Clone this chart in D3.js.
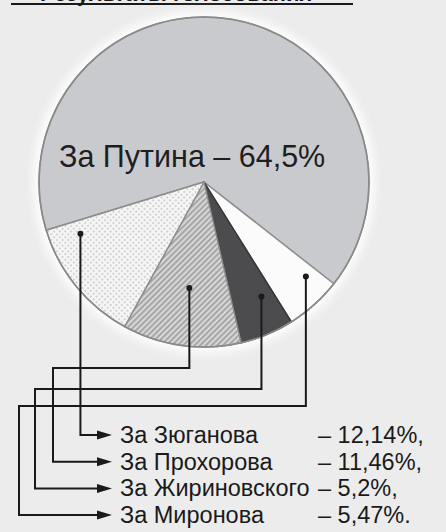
<!DOCTYPE html>
<html>
<head>
<meta charset="utf-8">
<script src="https://cdn.jsdelivr.net/npm/d3@7"></script>
<style>
  html, body { margin: 0; padding: 0; background: #ececec; }
  svg { display: block; font-family: "Liberation Sans", Arial, sans-serif; }
</style>
</head>
<body>
<main></main>
<script>
// data
const candidates = ["За Путина", "За Зюганова", "За Прохорова", "За Жириновского", "За Миронова"];
const shares = [64.5, 12.14, 11.46, 5.2, 5.47];
// order of slices around the pie, clockwise from the left edge of Putin's slice
const pieOrder = ["За Путина", "За Миронова", "За Жириновского", "За Прохорова", "За Зюганова"];
const titleText = "Результаты голосования";

const size = { width: 446, height: 532 };
const pieGeo = { cx: 204, cy: 182, r: 165, start: -107 };

const svg = d3.select('main')
  .append('svg')
  .attr('width', size.width)
  .attr('height', size.height);

const defs = svg.append('defs');

// stripes for Prokhorov
const stripes = defs.append('pattern')
  .attr('id', 'stripes')
  .attr('patternUnits', 'userSpaceOnUse')
  .attr('width', 4).attr('height', 4)
  .attr('patternTransform', 'rotate(45)');
stripes.append('rect').attr('width', 4).attr('height', 4).attr('fill', '#d6d6d6');
stripes.append('rect').attr('width', 1.6).attr('height', 4).attr('fill', '#9c9c9c');

// fine dots for Zyuganov
const dots = defs.append('pattern')
  .attr('id', 'dots')
  .attr('patternUnits', 'userSpaceOnUse')
  .attr('width', 4).attr('height', 4)
  .attr('patternTransform', 'rotate(45)');
dots.append('rect').attr('width', 4).attr('height', 4).attr('fill', '#f6f6f6');
dots.append('rect').attr('width', 2).attr('height', 2).attr('fill', '#d2d2d2');

const glow = defs.append('filter').attr('id', 'glow')
  .attr('x', '-20%').attr('y', '-20%').attr('width', '140%').attr('height', '140%');
glow.append('feGaussianBlur').attr('stdDeviation', 5);

const fills = {
  "За Путина": "#c9cacd",
  "За Миронова": "#fbfbfb",
  "За Жириновского": "#4c4c4f",
  "За Прохорова": "url(#stripes)",
  "За Зюганова": "url(#dots)"
};

// title, cut off at the top edge as in the original scan
svg.append('text')
  .attr('x', 40).attr('y', 0.5)
  .attr('font-size', 22).attr('font-weight', 'bold')
  .attr('fill', '#1a1a1a')
  .text(titleText);
svg.append('line')
  .attr('x1', 11).attr('x2', 353).attr('y1', 4).attr('y2', 4)
  .attr('stroke', '#1a1a1a').attr('stroke-width', 2);

// pie
const value = name => shares[candidates.indexOf(name)];
const toRad = d => d * Math.PI / 180;
const pie = d3.pie()
  .sort(null)
  .value(d => value(d))
  .startAngle(toRad(pieGeo.start))
  .endAngle(toRad(pieGeo.start) + 2 * Math.PI);
const arcs = pie(pieOrder);
const arc = d3.arc().innerRadius(0).outerRadius(pieGeo.r);

const g = svg.append('g').attr('transform', `translate(${pieGeo.cx},${pieGeo.cy})`);

g.append('circle')
  .attr('r', pieGeo.r + 6)
  .attr('fill', '#ffffff')
  .attr('opacity', 0.9)
  .attr('filter', 'url(#glow)');

g.selectAll('path.slice')
  .data(arcs)
  .enter()
  .append('path')
  .attr('class', 'slice')
  .attr('d', arc)
  .attr('fill', d => fills[d.data])
  .attr('stroke', d => d.data === "За Жириновского" ? '#333' : '#8c8c8c')
  .attr('stroke-width', 1.4)
  .attr('stroke-linejoin', 'round');

g.append('circle')
  .attr('r', pieGeo.r)
  .attr('fill', 'none')
  .attr('stroke', '#8a8a8a')
  .attr('stroke-width', 1.6);

// Putin label
const fmt = v => String(v).replace('.', ',');
svg.append('text')
  .attr('x', 59).attr('y', 167)
  .attr('font-size', 30.5)
  .attr('fill', '#1e1e1e')
  .text(`${candidates[0]} – ${fmt(shares[0])}%`);

// legend with leader lines
const legend = {
  x: 120, valueX: 318, baseline: 443, step: 26.7, arrowTip: 112,
  // where each leader starts inside its slice (fraction of slice angle, radius)
  // and where it is routed: horizontal lane y and left vertical lane x
  routes: [
    { t: 0.87, r: 134, laneY: null, laneX: null },
    { t: 0.50, r: 107, laneY: 368, laneX: 53 },
    { t: 0.28, r: 128, laneY: 389, laneX: 35 },
    { t: 0.24, r: 139, laneY: 406, laneX: 19 }
  ]
};

const ink = '#1a1a1a';
candidates.slice(1).forEach((name, i) => {
  const a = arcs.find(d => d.data === name);
  const rt = legend.routes[i];
  const ang = a.startAngle + rt.t * (a.endAngle - a.startAngle);
  const px = pieGeo.cx + rt.r * Math.sin(ang);
  const py = pieGeo.cy - rt.r * Math.cos(ang);
  const base = legend.baseline + i * legend.step;
  const ay = base - 8;

  const pts = rt.laneY === null
    ? [[px, py], [px, ay], [legend.arrowTip - 12, ay]]
    : [[px, py], [px, rt.laneY], [rt.laneX, rt.laneY], [rt.laneX, ay], [legend.arrowTip - 12, ay]];

  svg.append('path')
    .attr('d', d3.line()(pts))
    .attr('fill', 'none')
    .attr('stroke', ink)
    .attr('stroke-width', 2)
    .attr('stroke-linejoin', 'miter');
  svg.append('circle')
    .attr('cx', px).attr('cy', py).attr('r', 3)
    .attr('fill', ink);
  svg.append('path')
    .attr('d', d3.line()([[legend.arrowTip, ay], [legend.arrowTip - 15, ay - 4.5], [legend.arrowTip - 15, ay + 4.5]]) + 'Z')
    .attr('fill', ink);

  const label = svg.append('text')
    .attr('x', legend.x).attr('y', base)
    .attr('font-size', 23.5)
    .attr('fill', ink)
    .text(name);
  const end = legend.x + label.node().getComputedTextLength();
  const last = i === candidates.length - 2;
  svg.append('text')
    .attr('x', Math.max(legend.valueX, end + 7)).attr('y', base)
    .attr('font-size', 23.5)
    .attr('fill', ink)
    .text(`– ${fmt(shares[i + 1])}%${last ? '.' : ','}`);
});
</script>
</body>
</html>
